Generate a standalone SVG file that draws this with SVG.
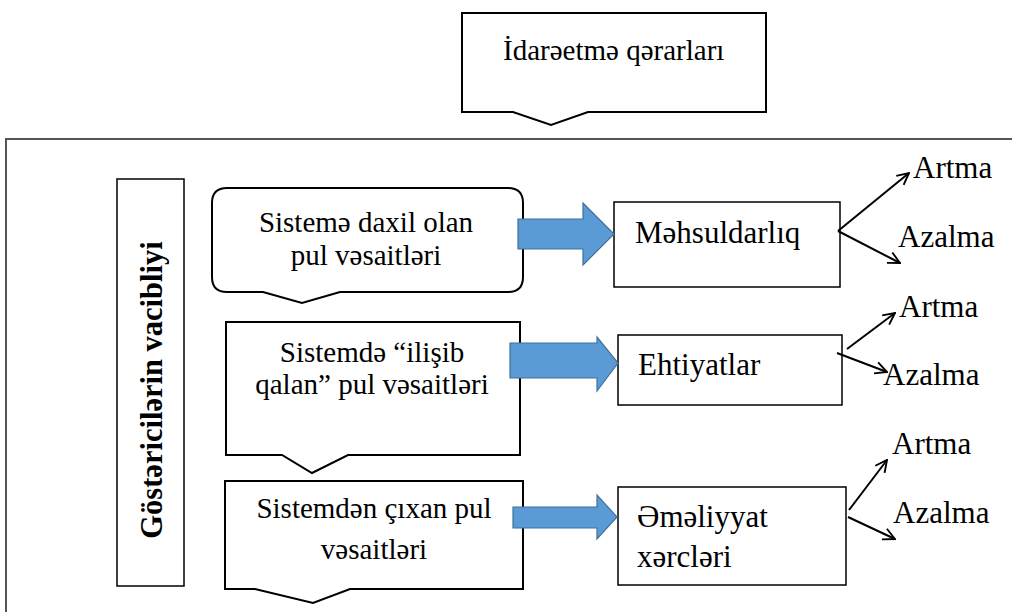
<svg xmlns="http://www.w3.org/2000/svg" width="1012" height="612" viewBox="0 0 1012 612">
  <style>
    text { font-family: 'Liberation Serif', 'Times New Roman', 'DejaVu Serif', serif; fill: #000; }
    .t { font-size: 29px; }
    .tr { font-size: 31px; }
    .tb { font-size: 30.5px; font-weight: bold; }
    .callout { fill: #fff; stroke: #000; stroke-width: 2; stroke-linejoin: miter; }
    .box { fill: #fff; stroke: #000; stroke-width: 1.5; }
    .block { fill: #5B9BD5; stroke: #41719C; stroke-width: 1.2; }
    .line { fill: none; stroke: #000; stroke-width: 2; marker-end: url(#open); }
  </style>
  <defs>
    <marker id="open" viewBox="0 0 12 12" refX="11" refY="6" markerWidth="7" markerHeight="7" markerUnits="strokeWidth" orient="auto">
      <path d="M1,1 L11,6 L1,11" fill="none" stroke="#000" stroke-width="1.6"/>
    </marker>
  </defs>
  <rect width="1012" height="612" fill="#fff"/>

  <!-- outer frame -->
  <path d="M1012,139 H6 V612" fill="none" stroke="#555" stroke-width="2"/>

  <!-- decisions callout -->
  <g id="decisions">
    <path class="callout" d="M462,13 H766 V112 H588 L551,125 L513,112 H462 Z"/>
    <text class="t" x="503" y="60">İdarəetmə qərarları</text>
  </g>

  <!-- vertical label -->
  <g id="importance">
    <rect class="box" x="117" y="179" width="67" height="407"/>
    <text class="tb" transform="translate(162,390) rotate(-90)" text-anchor="middle">Göstəricilərin vacibliyi</text>
  </g>

  <!-- inflow -->
  <g id="inflow">
    <path class="callout" d="M227,188 H508 Q523,188 523,203 V277 Q523,292 508,292 H340 L302,303 L263,292 H227 Q212,292 212,277 V203 Q212,188 227,188 Z"/>
    <text class="t" x="366" y="232" text-anchor="middle">Sistemə daxil olan</text>
    <text class="t" x="366" y="265" text-anchor="middle">pul vəsaitləri</text>
  </g>

  <!-- tied-up funds -->
  <g id="tied">
    <path class="callout" d="M226,322 H520 V455 H348 L312,473 L282,455 H226 Z"/>
    <text class="t" x="372" y="362" text-anchor="middle">Sistemdə “ilişib</text>
    <text class="t" x="372" y="394" text-anchor="middle">qalan” pul vəsaitləri</text>
  </g>

  <!-- outflow -->
  <g id="outflow">
    <path class="callout" d="M225,481 H523 V589 H350 L313,603 L255,589 H225 Z"/>
    <text class="t" x="374" y="518" text-anchor="middle">Sistemdən çıxan pul</text>
    <text class="t" x="374" y="559" text-anchor="middle">vəsaitləri</text>
  </g>

  <!-- indicator boxes -->
  <g id="productivity">
    <rect class="box" x="614" y="202" width="226" height="85"/>
    <text class="tr" x="635" y="243">Məhsuldarlıq</text>
  </g>
  <g id="reserves">
    <rect class="box" x="618" y="335" width="224" height="70"/>
    <text class="tr" x="638" y="375">Ehtiyatlar</text>
  </g>
  <g id="costs">
    <rect class="box" x="618" y="487" width="228" height="98"/>
    <text class="tr" x="637" y="527">Əməliyyat</text>
    <text class="tr" x="637" y="567">xərcləri</text>
  </g>

  <!-- outcome labels -->
  <g id="outcomes">
    <text class="tr" x="913" y="178">Artma</text>
    <text class="tr" x="898" y="247">Azalma</text>
    <text class="tr" x="899" y="317">Artma</text>
    <text class="tr" x="883" y="385">Azalma</text>
    <text class="tr" x="892" y="454">Artma</text>
    <text class="tr" x="893" y="523">Azalma</text>
  </g>

  <!-- connectors -->
  <g id="connectors">
    <polygon class="block" points="518,219 583,219 583,203 614,234 583,265 583,249 518,249"/>
    <polygon class="block" points="510,343 597,343 597,337 618,363 597,391 597,378 510,378"/>
    <polygon class="block" points="513,507 597,507 597,495 617,517 597,539 597,528 513,528"/>

    <path class="line" d="M838,231 L909,173"/>
    <path class="line" d="M838,231 L900,263"/>
    <path class="line" d="M847,349 L895,313"/>
    <path class="line" d="M837,353 L887,372"/>
    <path class="line" d="M849,510 L887,460"/>
    <path class="line" d="M848,517 L895,539"/>
  </g>
</svg>
